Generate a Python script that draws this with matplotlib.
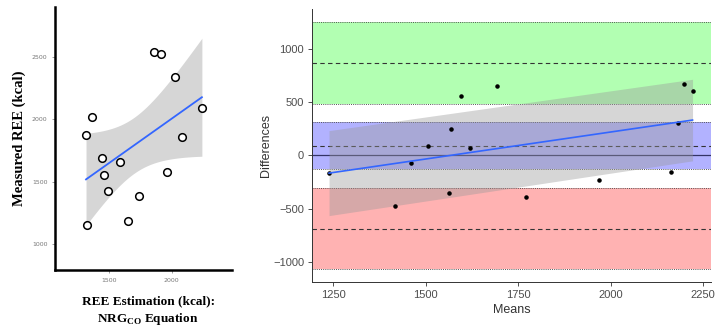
import numpy as np
import matplotlib.pyplot as plt

# REE estimated by NRG_CO equation vs measured REE (kcal)
estimated = [1317, 1367, 1321, 1444, 1461, 1495, 1585, 1654, 1740, 1862, 1918, 1966, 2029, 2082, 2240]
measured = [1872, 2016, 1155, 1690, 1551, 1422, 1655, 1181, 1385, 2537, 2526, 1575, 2335, 1856, 2088]

left_xticks = [1500, 2000]
left_yticks = [1000, 1500, 2000, 2500]
right_xticks = [1250, 1500, 1750, 2000, 2250]
right_yticks = [-1000, -500, 0, 500, 1000]

T_13 = 2.1604  # qt(0.975, 13)
T_14 = 2.1448  # qt(0.975, 14)


def lm_band(x, y, xs, t):
    x = np.asarray(x, float)
    y = np.asarray(y, float)
    n = len(x)
    slope, intercept = np.polyfit(x, y, 1)
    resid = y - (intercept + slope * x)
    s = np.sqrt(np.sum(resid ** 2) / (n - 2))
    sxx = np.sum((x - x.mean()) ** 2)
    fit = intercept + slope * xs
    se = s * np.sqrt(1 / n + (xs - x.mean()) ** 2 / sxx)
    return fit, fit - t * se, fit + t * se


est = np.array(estimated, float)
meas = np.array(measured, float)
means = (est + meas) / 2
diffs = meas - est

fig = plt.figure(figsize=(7.19, 3.29), dpi=100)
serif = {"family": "Liberation Serif", "weight": "bold"}

# ---- left: scatter with lm smooth
ax1 = fig.add_axes([0.0765, 0.1793, 0.2462, 0.7994])
xs = np.linspace(est.min(), est.max(), 80)
fit, lo, hi = lm_band(est, meas, xs, T_13)
ax1.fill_between(xs, lo, hi, color="#999999", alpha=0.4, lw=0, zorder=1)
ax1.plot(xs, fit, color="#3366FF", lw=1.3, zorder=2)
ax1.scatter(est, meas, s=30, facecolor="white", edgecolor="black", linewidth=1.1, zorder=3)
ax1.set_xlim(1070, 2480)
ax1.set_ylim(790, 2900)
ax1.set_xticks(left_xticks)
ax1.set_yticks(left_yticks)
ax1.tick_params(labelsize=4.5, labelcolor="#777777", color="#777777", length=2, width=0.5)
for side in ["top", "right"]:
    ax1.spines[side].set_visible(False)
for side in ["left", "bottom"]:
    ax1.spines[side].set_linewidth(1.8)
ax1.set_ylabel("Measured REE (kcal)", fontsize=10.5, labelpad=4, **serif)
fig.text(0.206, 0.055, "REE Estimation (kcal):\nNRG$_{\\mathregular{CO}}$ Equation",
         ha="center", va="center", fontsize=9.5, linespacing=1.3, **serif)

# ---- right: Bland-Altman
ax2 = fig.add_axes([0.4335, 0.1429, 0.5554, 0.8288])
n = len(diffs)
bias = diffs.mean()
sd = diffs.std(ddof=1)
upper = bias + 1.96 * sd
lower = bias - 1.96 * sd
bias_ci = T_14 * sd / np.sqrt(n)
loa_ci = T_14 * np.sqrt(3 * sd ** 2 / n)

bands = [(upper, loa_ci, "#00ff00"), (bias, bias_ci, "#0000ff"), (lower, loa_ci, "#ff0000")]
for centre, half, col in bands:
    ax2.axhspan(centre - half, centre + half, color=col, alpha=0.3, lw=0, zorder=0)
    for edge in (centre - half, centre + half):
        ax2.axhline(edge, color="#555555", ls=(0, (1, 1.2)), lw=0.7, zorder=1)
    ax2.axhline(centre, color="#333333", ls=(0, (4, 3)), lw=0.8, zorder=1)
ax2.axhline(0, color="#333366", lw=0.9, zorder=1)

ax2.scatter(means, diffs, s=5, color="black", zorder=3)
xr = np.array([means.min(), means.max()])
fit2, lo2, hi2 = lm_band(means, diffs, xr, T_13)
ax2.fill_between(xr, lo2, hi2, color="#999999", alpha=0.4, lw=0, zorder=2)
ax2.plot(xr, fit2, color="#3366FF", lw=1.2, zorder=4)

ax2.set_xlim(1191, 2272)
ax2.set_ylim(-1188, 1373)
ax2.set_xticks(right_xticks)
ax2.set_yticks(right_yticks)
ax2.tick_params(labelsize=8, labelcolor="#4d4d4d", color="#333333", length=3, width=0.6, pad=2.5)
for lab in ax2.get_xticklabels() + ax2.get_yticklabels():
    lab.set_family("Liberation Sans")
for side in ["top", "right"]:
    ax2.spines[side].set_visible(False)
for side in ["left", "bottom"]:
    ax2.spines[side].set_linewidth(0.7)
    ax2.spines[side].set_color("#333333")
ax2.set_xlabel("Means", fontsize=9, family="Liberation Sans", color="#333333", labelpad=3)
ax2.set_ylabel("Differences", fontsize=9, family="Liberation Sans", color="#333333", labelpad=1)

fig.savefig("out.png", dpi=100)
